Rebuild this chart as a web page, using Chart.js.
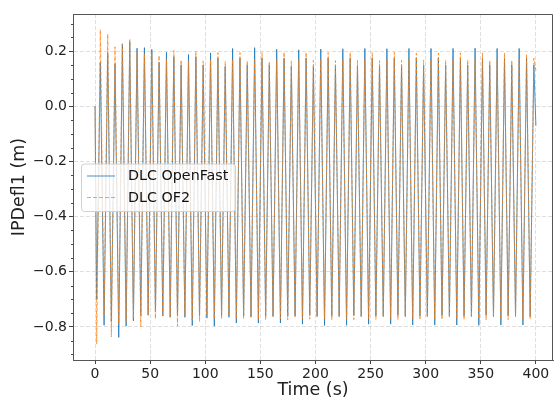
<!DOCTYPE html>
<html>
<head>
<meta charset="utf-8">
<script src="https://cdn.jsdelivr.net/npm/chart.js@4/dist/chart.umd.min.js"></script>
<style>
html,body{margin:0;padding:0;background:#fff;}
#wrap{width:556px;height:401px;}
</style>
</head>
<body>
<div id="wrap"><canvas id="c" width="556" height="401"></canvas></div>
<script>
// ---- data ----
const seriesNames = ['DLC OpenFast', 'DLC OF2'];
const xTickValues = [0, 50, 100, 150, 200, 250, 300, 350, 400];
const yTickValues = [-0.8, -0.6, -0.4, -0.2, 0.0, 0.2];
const startTime = 0;
const endTime = 400;
const troughTimes = [1.5, 8.2, 14.8, 21.5, 28.2, 34.8, 41.5, 48.2, 54.8, 61.5, 68.2, 74.8, 81.5, 88.2, 94.8, 101.5, 108.2, 114.8, 121.5, 128.2, 134.8, 141.5, 148.2, 154.8, 161.5, 168.2, 174.8, 181.5, 188.2, 194.8, 201.5, 208.2, 214.8, 221.5, 228.2, 234.8, 241.5, 248.2, 254.8, 261.5, 268.2, 274.8, 281.5, 288.2, 294.8, 301.5, 308.2, 314.8, 321.5, 328.2, 334.8, 341.5, 348.2, 354.8, 361.5, 368.2, 374.8, 381.5, 388.2, 394.8];
const peakTimes = [4.8, 11.5, 18.1, 24.8, 31.5, 38.1, 44.8, 51.5, 58.1, 64.8, 71.5, 78.1, 84.8, 91.5, 98.1, 104.8, 111.5, 118.1, 124.8, 131.5, 138.1, 144.8, 151.5, 158.1, 164.8, 171.5, 178.1, 184.8, 191.5, 198.1, 204.8, 211.5, 218.1, 224.8, 231.5, 238.1, 244.8, 251.5, 258.1, 264.8, 271.5, 278.1, 284.8, 291.5, 298.1, 304.8, 311.5, 318.1, 324.8, 331.5, 338.1, 344.8, 351.5, 358.1, 364.8, 371.5, 378.1, 384.8, 391.5, 398.1];

const openFastStart = 0.0;
const openFastEnd = -0.07;
const openFastTroughs = [-0.70, -0.794, -0.78, -0.838, -0.797, -0.778, -0.76, -0.756, -0.745, -0.76,
  -0.765, -0.76, -0.765, -0.795, -0.76, -0.768, -0.797, -0.758, -0.765, -0.786,
  -0.76, -0.764, -0.786, -0.76, -0.762, -0.786, -0.762, -0.76, -0.79, -0.758,
  -0.762, -0.795, -0.76, -0.762, -0.794, -0.758, -0.762, -0.79, -0.76, -0.762,
  -0.79, -0.758, -0.762, -0.793, -0.76, -0.762, -0.793, -0.758, -0.762, -0.793,
  -0.76, -0.762, -0.794, -0.758, -0.762, -0.793, -0.76, -0.762, -0.793, -0.762];
const openFastPeaks = [0.16, 0.195, 0.155, 0.227, 0.235, 0.211, 0.213, 0.207, 0.16, 0.196,
  0.18, 0.15, 0.188, 0.18, 0.15, 0.194, 0.175, 0.145, 0.21, 0.175,
  0.15, 0.213, 0.175, 0.15, 0.207, 0.175, 0.145, 0.205, 0.175, 0.145,
  0.208, 0.175, 0.148, 0.209, 0.175, 0.148, 0.21, 0.175, 0.148, 0.209,
  0.175, 0.148, 0.21, 0.175, 0.15, 0.21, 0.175, 0.15, 0.21, 0.175,
  0.15, 0.211, 0.175, 0.15, 0.21, 0.175, 0.15, 0.21, 0.175, 0.15];

const of2Start = 0.0;
const of2End = 0.13;
const of2Troughs = [-0.862, -0.76, -0.836, -0.79, -0.78, -0.77, -0.80, -0.76, -0.771, -0.76,
  -0.765, -0.797, -0.76, -0.775, -0.78, -0.76, -0.77, -0.771, -0.76, -0.77,
  -0.771, -0.765, -0.772, -0.775, -0.762, -0.77, -0.774, -0.764, -0.77, -0.772,
  -0.762, -0.77, -0.775, -0.764, -0.772, -0.774, -0.762, -0.77, -0.773, -0.764,
  -0.77, -0.774, -0.763, -0.77, -0.775, -0.762, -0.772, -0.774, -0.764, -0.77,
  -0.774, -0.762, -0.771, -0.775, -0.763, -0.77, -0.774, -0.762, -0.771, -0.772];
const of2Peaks = [0.278, 0.262, 0.216, 0.225, 0.242, 0.20, 0.19, 0.195, 0.185, 0.17,
  0.203, 0.169, 0.165, 0.2, 0.165, 0.17, 0.195, 0.163, 0.17, 0.195,
  0.165, 0.17, 0.195, 0.163, 0.17, 0.197, 0.165, 0.17, 0.196, 0.167,
  0.17, 0.195, 0.166, 0.17, 0.196, 0.167, 0.17, 0.195, 0.166, 0.17,
  0.196, 0.167, 0.17, 0.193, 0.168, 0.17, 0.193, 0.167, 0.17, 0.194,
  0.168, 0.17, 0.193, 0.167, 0.17, 0.194, 0.168, 0.17, 0.19, 0.175];

// ---- build point tables from the arrays ----
function buildSeries(startVal, troughs, peaks, endVal) {
  const pts = [{x: startTime, y: startVal}];
  for (let i = 0; i < troughTimes.length; i++) {
    pts.push({x: troughTimes[i], y: troughs[i]});
    pts.push({x: peakTimes[i], y: peaks[i]});
  }
  pts.push({x: endTime, y: endVal});
  return pts;
}

const FONT = "'DejaVu Sans', sans-serif";
const fmtX = v => String(Math.round(v)).replace('-', '\u2212');
const fmtY = v => (Math.abs(v) < 1e-9 ? 0 : v).toFixed(1).replace('-', '\u2212');

const framePlugin = {
  id: 'frame',
  afterDatasetsDraw(chart) {
    const {ctx, chartArea: a, scales} = chart;
    ctx.save();
    ctx.strokeStyle = '#555';
    ctx.lineWidth = 1;
    ctx.beginPath();
    ctx.moveTo(a.left, a.top + 0.5);
    ctx.lineTo(a.right - 0.5, a.top + 0.5);
    ctx.lineTo(a.right - 0.5, a.bottom);
    ctx.stroke();
    const ys = scales.y;
    ctx.strokeStyle = '#444';
    for (let v = -0.9; v <= 0.33; v += 0.05) {
      const r = Math.round(v * 100) / 100;
      if (Math.abs(Math.round(r * 5) - r * 5) < 1e-6) continue;
      const py = Math.round(ys.getPixelForValue(r)) + 0.5;
      ctx.beginPath();
      ctx.moveTo(a.left - 2, py);
      ctx.lineTo(a.left, py);
      ctx.stroke();
    }
    ctx.restore();
  },
  afterDraw(chart) {
    const {ctx} = chart;
    const ds = chart.data.datasets;
    ctx.save();
    const x0 = 81.5, y0 = 164, w = 154, h = 47.5, r = 3;
    ctx.beginPath();
    ctx.moveTo(x0 + r, y0);
    ctx.lineTo(x0 + w - r, y0);
    ctx.quadraticCurveTo(x0 + w, y0, x0 + w, y0 + r);
    ctx.lineTo(x0 + w, y0 + h - r);
    ctx.quadraticCurveTo(x0 + w, y0 + h, x0 + w - r, y0 + h);
    ctx.lineTo(x0 + r, y0 + h);
    ctx.quadraticCurveTo(x0, y0 + h, x0, y0 + h - r);
    ctx.lineTo(x0, y0 + r);
    ctx.quadraticCurveTo(x0, y0, x0 + r, y0);
    ctx.closePath();
    ctx.fillStyle = 'rgba(255,255,255,0.8)';
    ctx.fill();
    ctx.strokeStyle = '#d0d0d0';
    ctx.lineWidth = 1;
    ctx.stroke();
    const rows = [176, 197.5];
    ds.forEach((d, i) => {
      ctx.strokeStyle = d.borderColor;
      ctx.lineWidth = d.borderWidth;
      ctx.setLineDash(d.borderDash || []);
      ctx.beginPath();
      ctx.moveTo(87, rows[i]);
      ctx.lineTo(115, rows[i]);
      ctx.stroke();
      ctx.setLineDash([]);
      ctx.fillStyle = '#111';
      ctx.font = '14.3px ' + FONT;
      ctx.textBaseline = 'middle';
      ctx.textAlign = 'left';
      ctx.fillText(d.label, 128, rows[i] + 0.5);
    });
    ctx.restore();
  }
};

new Chart(document.getElementById('c'), {
  type: 'line',
  data: {
    datasets: [
      {
        label: seriesNames[0],
        data: buildSeries(openFastStart, openFastTroughs, openFastPeaks, openFastEnd),
        borderColor: 'rgba(31,119,180,0.8)',
        borderWidth: 1,
        pointRadius: 0,
        tension: 0,
        fill: false,
        order: 1
      },
      {
        label: seriesNames[1],
        data: buildSeries(of2Start, of2Troughs, of2Peaks, of2End),
        borderColor: 'rgba(255,127,14,0.75)',
        borderWidth: 1,
        borderDash: [4, 2],
        pointRadius: 0,
        tension: 0,
        fill: false,
        order: 0
      }
    ]
  },
  options: {
    responsive: false,
    animation: false,
    layout: {padding: {top: 14, right: 3, left: 0, bottom: 0}},
    plugins: {legend: {display: false}, tooltip: {enabled: false}},
    scales: {
      x: {
        type: 'linear',
        min: -20,
        max: 415.5,
        afterBuildTicks: s => { s.ticks = xTickValues.map(v => ({value: v})); },
        afterFit: s => { s.height = 41; },
        grid: {color: 'rgba(176,176,176,0.5)', lineWidth: 0.8, tickLength: 4, tickColor: '#444', tickWidth: 1},
        border: {display: true, color: '#555', width: 1, dash: [4, 2]},
        ticks: {font: {family: FONT, size: 14}, color: '#222', padding: 2, maxRotation: 0, autoSkip: false, callback: v => fmtX(v)},
        title: {display: true, text: 'Time (s)', font: {family: FONT, size: 17.5}, color: '#222', padding: {top: 0, bottom: 0}}
      },
      y: {
        type: 'linear',
        min: -0.92,
        max: 0.335,
        afterBuildTicks: s => { s.ticks = yTickValues.map(v => ({value: v})); },
        afterFit: s => { s.width = 73; },
        grid: {color: 'rgba(176,176,176,0.5)', lineWidth: 0.8, tickLength: 4, tickColor: '#444', tickWidth: 1},
        border: {display: true, color: '#555', width: 1, dash: [4, 2]},
        ticks: {font: {family: FONT, size: 14}, color: '#222', padding: 2, autoSkip: false, callback: v => fmtY(v)},
        title: {display: true, text: 'IPDefl1 (m)', font: {family: FONT, size: 17.5}, color: '#222', padding: {top: 9, bottom: 0}}
      }
    }
  },
  plugins: [framePlugin]
});
</script>
</body>
</html>
